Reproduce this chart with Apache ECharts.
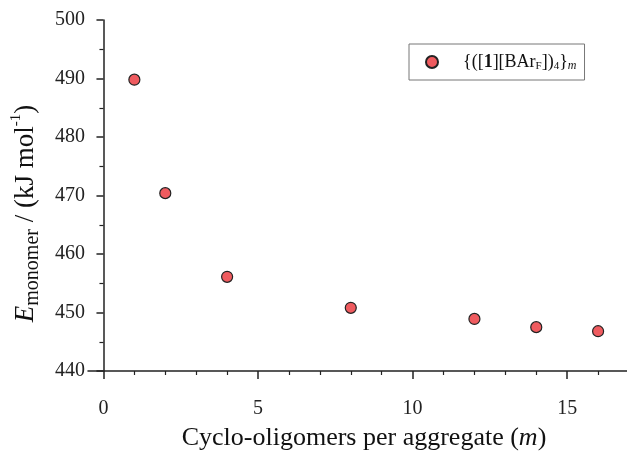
<!DOCTYPE html>
<html>
<head>
<meta charset="utf-8">
<script src="https://cdn.jsdelivr.net/npm/echarts@6/dist/echarts.min.js"></script>
<style>html,body{margin:0;padding:0;background:#fff}#c{width:627px;height:451px}</style>
</head>
<body>
<div id="c"></div>
<script>
var mValues = [1, 2, 4, 8, 12, 14, 16];
var energyValues = [489.8, 470.4, 456.1, 450.8, 448.9, 447.5, 446.8];
var xMajorTicks = [0, 5, 10, 15];
var xMinorTicks = [1, 2, 3, 4, 6, 7, 8, 9, 11, 12, 13, 14, 16];
var seriesName = 'agg';

var FONT = 'Liberation Serif';
var AX = '#222';
var points = mValues.map(function (m, i) { return [m, energyValues[i]]; });

var chart = echarts.init(document.getElementById('c'));
chart.setOption({
  animation: false,
  backgroundColor: '#fff',
  grid: { left: 88, right: -2, top: 20, bottom: 80, outerBoundsMode: 'none', containLabel: false },
  legend: {
    left: 409, top: 44,
    orient: 'vertical',
    padding: [8, 8, 8, 16],
    borderColor: '#777', borderWidth: 1,
    itemWidth: 12, itemHeight: 12,
    data: [seriesName],
    formatter: function () {
      return '{pad|}{([{b|1}][BAr{s|F}]){s|4}}{si|m}';
    },
    textStyle: {
      fontFamily: FONT, fontSize: 18, color: '#111', lineHeight: 20,
      rich: {
        pad: { width: 20 },
        b: { fontFamily: FONT, fontSize: 18, fontWeight: 'bold', color: '#111' },
        s: { fontFamily: FONT, fontSize: 11, color: '#111', verticalAlign: 'bottom', lineHeight: 12 },
        si: { fontFamily: FONT, fontSize: 12, fontStyle: 'italic', color: '#111', verticalAlign: 'bottom', lineHeight: 12 }
      }
    }
  },
  xAxis: [{
    type: 'value', min: -0.5, max: 17,
    splitLine: { show: false },
    axisLine: { lineStyle: { color: AX, width: 1.5 } },
    axisTick: { customValues: xMajorTicks, length: 8, lineStyle: { color: AX, width: 1.5 } },
    axisLabel: { customValues: xMajorTicks, margin: 28, fontFamily: FONT, fontSize: 20, color: '#222' },
    name: '{t|Cyclo-oligomers per aggregate (}{i|m}{t|)}',
    nameLocation: 'middle', nameGap: 54,
    nameTextStyle: {
      padding: [0, 0, 0, 11],
      rich: {
        t: { fontFamily: FONT, fontSize: 26, color: '#111' },
        i: { fontFamily: FONT, fontSize: 26, fontStyle: 'italic', color: '#111' }
      }
    }
  }, {
    type: 'value', min: -0.5, max: 17, position: 'bottom',
    splitLine: { show: false },
    axisLine: { show: false },
    axisTick: { customValues: xMinorTicks, length: 4, lineStyle: { color: AX, width: 1.2 } },
    axisLabel: { show: false }
  }],
  yAxis: {
    type: 'value', min: 440, max: 500, interval: 10,
    splitLine: { show: false },
    axisLine: { onZero: true, lineStyle: { color: AX, width: 1.5 } },
    axisTick: { length: 7, lineStyle: { color: AX, width: 1.5 } },
    minorTick: { show: true, splitNumber: 2, length: 4, lineStyle: { color: AX, width: 1.2 } },
    axisLabel: { margin: 3, fontFamily: FONT, fontSize: 20, color: '#222' },
    name: '{e|E}{sub|monomer}{t| / (kJ mol}{sup|-1}{t|)}',
    nameLocation: 'middle', nameRotate: 90, nameGap: 45,
    nameTextStyle: {
      padding: [0, 36, 0, 0],
      rich: {
        e: { fontFamily: FONT, fontSize: 27, fontStyle: 'italic', color: '#111', lineHeight: 34 },
        t: { fontFamily: FONT, fontSize: 27, color: '#111', lineHeight: 34 },
        sub: { fontFamily: FONT, fontSize: 20, color: '#111', verticalAlign: 'bottom', lineHeight: 20 },
        sup: { fontFamily: FONT, fontSize: 15, color: '#111', verticalAlign: 'top', lineHeight: 15 }
      }
    }
  },
  series: [{
    name: seriesName,
    type: 'scatter',
    xAxisIndex: 0,
    symbol: 'circle',
    symbolSize: 11,
    itemStyle: { color: '#ef5b5f', borderColor: '#222', borderWidth: 1.2, opacity: 1 },
    data: points
  }]
});
</script>
</body>
</html>
